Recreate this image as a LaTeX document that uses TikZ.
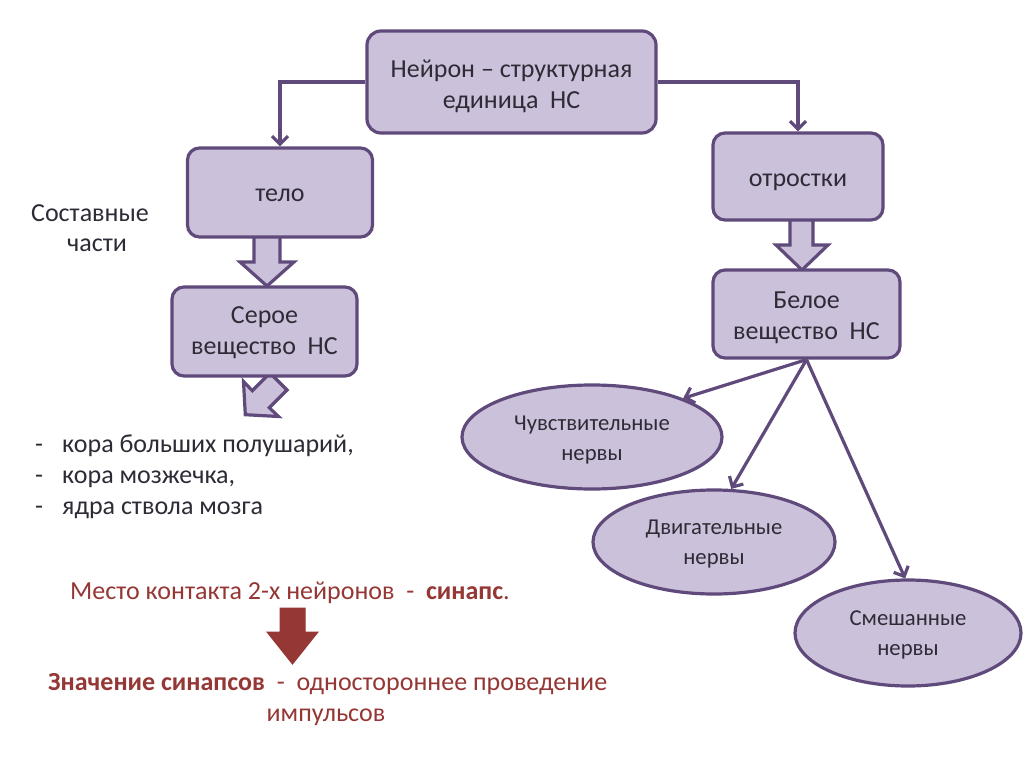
\documentclass[tikz,border=0pt]{standalone}
\usepackage{fontspec}
\setmainfont{Carlito}
\usetikzlibrary{shapes.geometric,arrows.meta}
\definecolor{fillc}{HTML}{CCC1DA}
\definecolor{bord}{HTML}{604A7B}
\definecolor{txt}{HTML}{2E2B36}
\definecolor{redc}{HTML}{953735}
% #1 = how far the lines are lowered below the node centre
\newcommand\boxlines[2][4pt]{\raisebox{0pt}[\dimexpr\height+#1+#1\relax][\depth]{\begin{tabular}{@{}c@{}}#2\end{tabular}}}
\tikzset{
  box/.style={draw=bord, fill=fillc, line width=3.2pt, rounded corners=14pt,
    text=txt, inner sep=0pt, font=\fontsize{26}{31}\selectfont},
  oval/.style={ellipse, draw=bord, fill=fillc, line width=3.2pt,
    text=txt, inner sep=0pt, font=\fontsize{22.7}{30}\selectfont},
  conn/.style={draw=bord, line width=3.2pt, -{Straight Barb[length=8pt,width=16pt]}},
  blockarr/.style={draw=bord, fill=fillc, line width=3.2pt, line join=miter},
  redarr/.style={draw=redc, fill=redc, line width=1pt, line join=miter},
  plain/.style={text=txt, inner sep=0pt, font=\fontsize{26}{30}\selectfont},
  redtext/.style={text=redc, inner sep=0pt, font=\fontsize{26}{30}\selectfont},
}
\begin{document}
\begin{tikzpicture}[x=1pt,y=-1pt]
\useasboundingbox[fill=white] (0,0) rectangle (1024,767);

% block arrows (behind boxes)
\draw[blockarr] (254,236) -- (280,236) -- (280,262) -- (294,262) -- (267,286) -- (240,262) -- (254,262) -- cycle;
\draw[blockarr] (790,219) -- (813,219) -- (813,245) -- (828,245) -- (802,270) -- (776,245) -- (790,245) -- cycle;
\draw[blockarr] (270,373) -- (287,390) -- (269.3,407.7) -- (278.5,416.5) -- (245.3,414.7) -- (243.5,381.5) -- (252.3,390.7) -- cycle;

% boxes
\node[box, minimum width=289, minimum height=102] (top) at (511.5,82) {\boxlines[5pt]{Нейрон – структурная\\единица\ \ НС}};
\node[box, minimum width=185, minimum height=89, rounded corners=12pt] (telo) at (280,192.5) {\boxlines[3pt]{тело}};
\node[box, minimum width=185, minimum height=89, rounded corners=12pt] (grey) at (264.5,331.5) {\boxlines[1.5pt]{Серое\\вещество\ \ НС}};
\node[box, minimum width=170, minimum height=87, rounded corners=12pt] (otr) at (798,176.5) {\boxlines[4pt]{отростки}};
\node[box, minimum width=187, minimum height=88, rounded corners=12pt] (white) at (806.5,314) {\boxlines[4pt]{Белое\\вещество\ \ НС}};

% ellipses
\node[oval, minimum width=260, minimum height=104] (e1) at (592,437) {\boxlines[2pt]{Чувствительные\\нервы}};
\node[oval, minimum width=242, minimum height=104] (e2) at (714,542) {\boxlines[1pt]{Двигательные\\нервы}};
\node[oval, minimum width=226, minimum height=106] (e3) at (908,633) {\boxlines[1pt]{Смешанные\\нервы}};

% connectors
\draw[conn] (top.west) -| (telo.north);
\draw[conn] (top.east) -| (otr.north);
\draw[conn] (white.south) -- (e1.23);
\draw[conn] (white.south) -- (e2.72);
\draw[conn] (white.south) -- (e3.93);

% side texts
\node[plain, align=center] (parts) at (90,228) {Составные\\\hspace*{14pt}части};
\node[plain, anchor=base west] (l1) at (35,452) {\makebox[27pt][l]{-}кора больших полушарий,};
\node[plain, anchor=base west] (l2) at (35,483) {\makebox[27pt][l]{-}кора мозжечка,};
\node[plain, anchor=base west] (l3) at (35,514) {\makebox[27pt][l]{-}ядра ствола мозга};

% synapse
\node[redtext, anchor=base west] (syn) at (70,599) {Место контакта 2-х нейронов\ \ -\ \ \textbf{синапс}.};
\draw[redarr] (280,608) -- (305,608) -- (305,632) -- (318,632) -- (292.5,664) -- (267,632) -- (280,632) -- cycle;
\node[redtext, anchor=base west] (val) at (48,690) {\textbf{Значение синапсов}\ \ -\ \ одностороннее проведение};
\node[redtext, anchor=base] (imp) at (326,721) {импульсов};
\end{tikzpicture}
\end{document}
